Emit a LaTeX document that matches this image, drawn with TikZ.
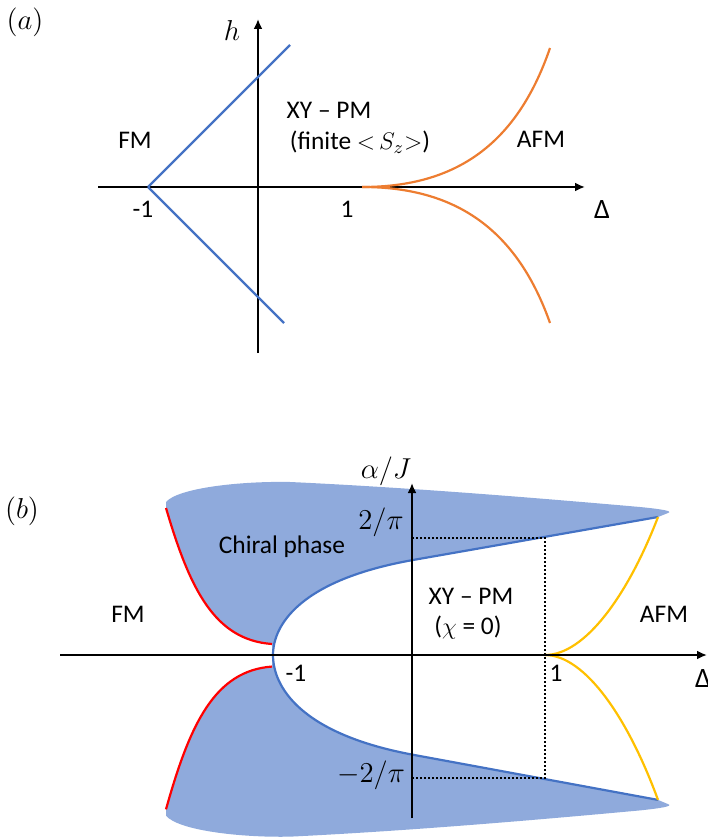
\documentclass[tikz,border=0pt]{standalone}
\usepackage{fontspec}
\setmainfont{Carlito}
\usetikzlibrary{arrows.meta}
\definecolor{lineblue}{RGB}{68,114,196}
\definecolor{chiralfill}{RGB}{143,170,220}
\definecolor{afmorange}{RGB}{237,125,49}
\definecolor{afmyellow}{RGB}{255,192,0}
\definecolor{fmred}{RGB}{255,0,0}

% one half of the chiral region, y measured from the Delta axis
\newcommand{\chiralhalf}{%
  \fill[chiralfill] (166,-153) .. controls (178,-167) and (240,-174) .. (290,-173)
    .. controls (420,-167) and (560,-155) .. (640,-148)
    .. controls (660,-146) and (674,-144) .. (668,-142) -- (658,-138) -- (413,-95)
    .. controls (300,-75) and (273,-30) .. (273,0) -- (272,-11)
    .. controls (215,-15) and (190,-65) .. (166,-147) -- cycle;
  \draw[bnd, lineblue] (658,-138) -- (413,-95) .. controls (300,-75) and (273,-30) .. (273,0);
  \draw[bnd, fmred] (166,-147) .. controls (190,-65) and (215,-15) .. (272,-11);
  \draw[bnd, afmyellow] (545,0) .. controls (585,0) and (628,-60) .. (658,-138);
  \draw[guide] (412,-117) -- (545,-117) -- (545,0);
}

\begin{document}
\begin{tikzpicture}[x=0.5pt,y=-0.5pt,>={Latex[length=5pt,width=4.5pt]},
    every node/.style={font=\fontsize{12.7}{15}\selectfont},
    mathlbl/.style={font=\fontsize{14}{16}\selectfont},
    axis/.style={line width=1pt},
    bnd/.style={line width=1.1pt},
    guide/.style={line width=1pt, dash pattern=on 1pt off 1pt}]
    \useasboundingbox (0,0) rectangle (707,839);

    % (a)
    \node[mathlbl] (labA) at (25,22) {$(a)$};
    \draw[axis,->] (98,187) -- (585,187);
    \draw[axis,->] (258,353) -- (258,19);
    \node[mathlbl] (hA) at (232,31) {$h$};
    \node[mathlbl] (deltaA) at (602,210) {Δ};
    \node (mOneA) at (143,209) {-1};
    \node (oneA) at (347,209) {1};

    \coordinate (fmCorner) at (148,187);
    \draw[bnd, lineblue] (fmCorner) -- (290,45);
    \draw[bnd, lineblue] (fmCorner) -- (284,323);
    \draw[bnd, afmorange] (362,187) .. controls (450,187) and (515,150) .. (550,48);
    \draw[bnd, afmorange] (362,187) .. controls (450,187) and (515,224) .. (550,323);

    \node (fmA) at (135,140) {FM};
    \node (xyA) at (329,110) {XY -- PM};
    \node (szA) at (360,142) {(finite ${<}\,S_z{>}$)};
    \node (afmA) at (541,139) {AFM};

    % (b)
    \begin{scope}[shift={(0,655)}]
      \chiralhalf
    \end{scope}
    \begin{scope}[shift={(0,655)}, yscale=-1.05]
      \chiralhalf
    \end{scope}

    \node[mathlbl] (labB) at (22,511) {$(b)$};
    \draw[axis,->] (60,655) -- (707,655);
    \draw[axis,->] (412,818) -- (412,483);
    \node[mathlbl] (alphaB) at (386,471) {$\alpha/J$};
    \node[mathlbl] (deltaB) at (703,679) {Δ};
    \node (mOneB) at (296,673) {-1};
    \node (oneB) at (556,673) {1};
    \node[mathlbl] (twoPi) at (381,522) {$2/\pi$};
    \node[mathlbl] (mTwoPi) at (371,775) {$-2/\pi$};

    \node (chiralB) at (282,547) {Chiral phase};
    \node (fmB) at (128,614) {FM};
    \node (xyB) at (471,596) {XY -- PM};
    \node (chiB) at (468,628) {($\chi$ = 0)};
    \node (afmB) at (664,614) {AFM};
\end{tikzpicture}
\end{document}
